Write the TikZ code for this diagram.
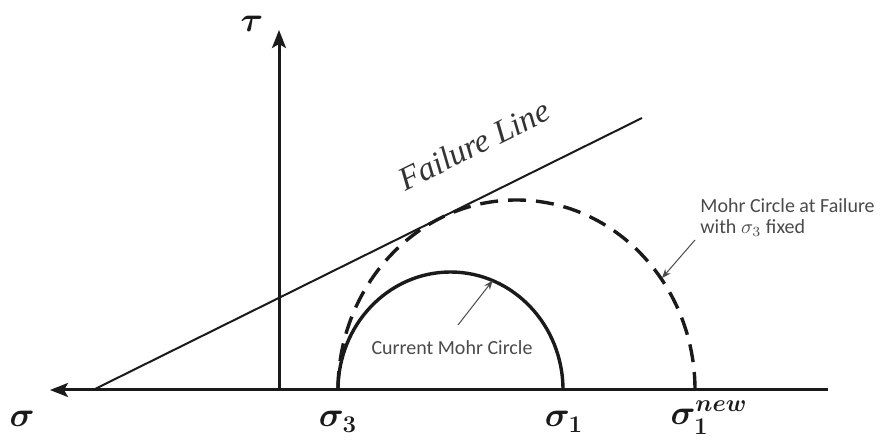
\documentclass[tikz,border=0pt]{standalone}
\usepackage{amsmath}
\usepackage{fontspec}
\newfontfamily\notefont{Carlito}
\newfontfamily\linefont{Liberation Serif}
\usetikzlibrary{arrows.meta,positioning,calc}
\definecolor{notegray}{HTML}{4A4A4A}
\definecolor{linegray}{HTML}{333333}
\definecolor{inkblack}{HTML}{1A1A1A}

\begin{document}
\begin{tikzpicture}[x=0.5pt,y=0.5pt,
    axisline/.style={line width=1.5pt,inkblack,-{Stealth[length=9pt,width=7pt,inset=2pt]}},
    mohrline/.style={line width=1.7pt,inkblack},
    pointer/.style={line width=0.5pt,notegray,-{Stealth[length=4.5pt,width=3.5pt]}},
    mathlabel/.style={inner sep=0pt,anchor=base,inkblack,font=\boldmath\fontsize{18.5}{22}\selectfont},
    notelabel/.style={inner sep=0pt,notegray,font=\notefont\fontsize{10}{10.5}\selectfont}]
    \useasboundingbox (0,0) rectangle (883,439);
    % axes
    \coordinate (origin) at (279,49);
    \coordinate (sigmaend) at (50,49);
    \coordinate (axisend) at (828,49);
    \coordinate (tauend) at (279,409);
    \draw[axisline] (axisend) -- (sigmaend);
    \draw[axisline] (origin) -- (tauend);
    \node[mathlabel] (sigma) at (22,12) {$\sigma$};
    \node[mathlabel] (tau) at (252,407) {$\tau$};
    % failure envelope
    \coordinate (failstart) at (93,49);
    \coordinate (failend) at (642,321);
    \draw[line width=1pt,inkblack] (failstart) -- (failend)
      node[sloped,pos=0.735,above=19pt,inner sep=0pt,linegray,font=\linefont\itshape\fontsize{16.5}{18}\selectfont] (faillabel) {Failure Line};
    % mohr circles
    \coordinate (sthree) at (338,49);
    \coordinate (sone) at (563,49);
    \coordinate (sonenew) at (695,49);
    \draw[mohrline] (sone) arc[start angle=0,end angle=180,x radius=112.5,y radius=118];
    \draw[mohrline,dash pattern=on 9pt off 5pt] (sonenew) arc[start angle=0,end angle=180,x radius=178.5,y radius=190];
    \node[mathlabel] (sthreelabel) at (338,12) {$\sigma_3$};
    \node[mathlabel] (sonelabel) at (564,12) {$\sigma_1$};
    \node[mathlabel] (sonenewlabel) at (709,15) {$\sigma_1^{new}$};
    % notes
    \node[notelabel] (curlabel) at (452,91) {Current Mohr Circle};
    \coordinate (curtail) at (458,114);
    \coordinate (curtip) at (492.6,158.4);
    \draw[pointer] (curtail) -- (curtip);
    \node[notelabel,anchor=north west,align=left] (faillabelnote) at (700,241) {Mohr Circle at Failure\\with $\sigma_3$ fixed};
    \coordinate (newtail) at (695,199);
    \coordinate (newtip) at (662,161);
    \draw[pointer] (newtail) -- (newtip);
\end{tikzpicture}
\end{document}
